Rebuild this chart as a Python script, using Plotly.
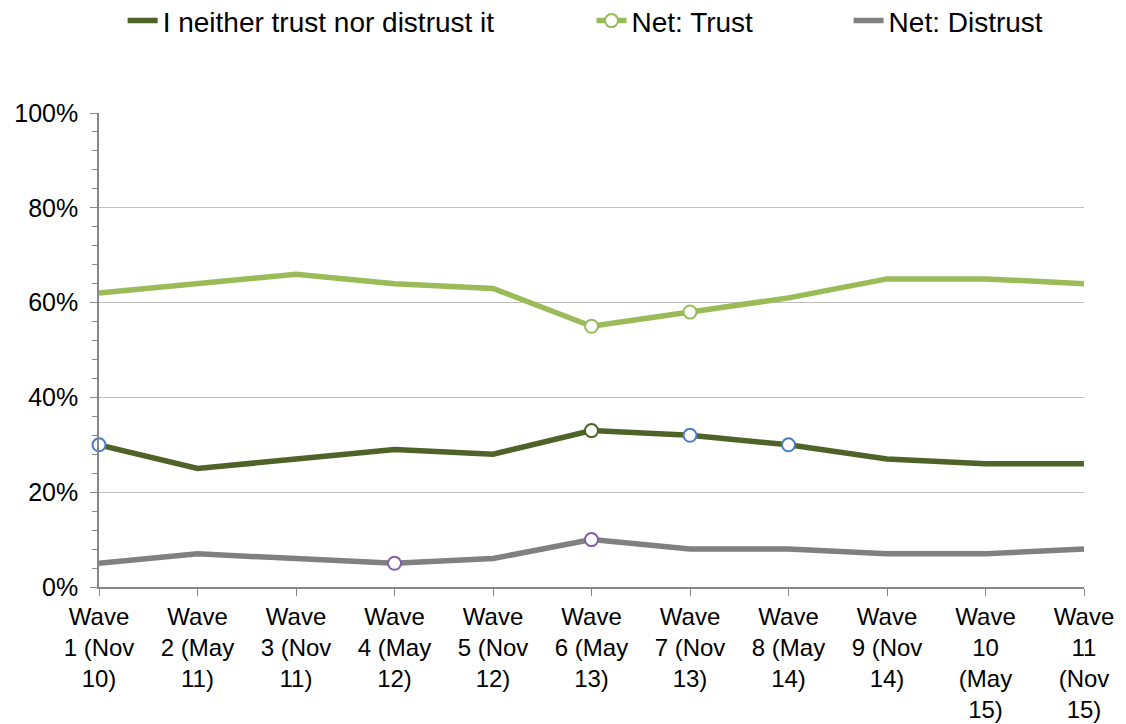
import plotly.graph_objects as go

categories = ["Wave<br>1 (Nov<br>10)", "Wave<br>2 (May<br>11)", "Wave<br>3 (Nov<br>11)",
              "Wave<br>4 (May<br>12)", "Wave<br>5 (Nov<br>12)", "Wave<br>6 (May<br>13)",
              "Wave<br>7 (Nov<br>13)", "Wave<br>8 (May<br>14)", "Wave<br>9 (Nov<br>14)",
              "Wave<br>10<br>(May<br>15)", "Wave<br>11<br>(Nov<br>15)"]
neither = [30, 25, 27, 29, 28, 33, 32, 30, 27, 26, 26]
trust = [62, 64, 66, 64, 63, 55, 58, 61, 65, 65, 64]
distrust = [5, 7, 6, 5, 6, 10, 8, 8, 7, 7, 8]

# highlighted points (index -> outline colour)
neither_marks = {0: "#4A7EC0", 5: "#4F6228", 6: "#4A7EC0", 7: "#4A7EC0"}
trust_marks = {5: "#9BBB59", 6: "#9BBB59"}
distrust_marks = {3: "#7F60A8", 5: "#7F60A8"}

C_NEITHER = "#4F6228"
C_TRUST = "#9BBB59"
C_DISTRUST = "#808080"
LW = 5.5

fig = go.Figure()
fig.add_trace(go.Scatter(x=categories, y=neither, mode="lines", name="I neither trust nor distrust it",
                         line=dict(color=C_NEITHER, width=LW), legend="legend"))
fig.add_trace(go.Scatter(x=[None], y=[None], mode="lines+markers", name="Net: Trust",
                         line=dict(color=C_TRUST, width=LW), legend="legend2",
                         marker=dict(size=13, color="white", line=dict(color=C_TRUST, width=2))))
fig.add_trace(go.Scatter(x=categories, y=distrust, mode="lines", name="Net: Distrust",
                         line=dict(color=C_DISTRUST, width=LW), legend="legend3"))
fig.add_trace(go.Scatter(x=categories, y=trust, mode="lines", name="Net: Trust",
                         line=dict(color=C_TRUST, width=LW), showlegend=False))

for vals, marks in [(neither, neither_marks), (trust, trust_marks), (distrust, distrust_marks)]:
    idx = sorted(marks)
    fig.add_trace(go.Scatter(
        x=[categories[i] for i in idx], y=[vals[i] for i in idx], mode="markers",
        showlegend=False, cliponaxis=False,
        marker=dict(size=13, color="white", line=dict(color=[marks[i] for i in idx], width=2))))

leg_common = dict(orientation="h", xanchor="left", yref="container", y=0.982, yanchor="middle",
                  font=dict(size=28), bgcolor="rgba(0,0,0,0)")
fig.update_layout(
    width=1118, height=716,
    paper_bgcolor="white", plot_bgcolor="white",
    margin=dict(l=91, r=42, t=105, b=137),
    font=dict(family="Liberation Sans, Arial", size=25, color="black"),
    showlegend=True,
    legend=dict(x=0.024, **leg_common),
    legend2=dict(x=0.500, **leg_common),
    legend3=dict(x=0.761, **leg_common),
)
fig.update_xaxes(type="category", range=[0, 10], showgrid=False, showline=True,
                 linecolor="#868686", linewidth=1.5, ticks="outside", ticklen=7,
                 tickcolor="#868686", automargin=False, tickangle=0,
                 tickfont=dict(size=24))
fig.update_yaxes(range=[0, 100], dtick=20, ticksuffix="%", showgrid=True, gridcolor="#BFBFBF",
                 gridwidth=1, showline=True, linecolor="#868686", linewidth=1.5,
                 ticks="outside", ticklen=7, tickcolor="#868686", zeroline=False,
                 automargin=False, ticklabelstandoff=7, tickfont=dict(size=25),
                 minor=dict(dtick=4, ticks="outside", ticklen=5, tickcolor="#868686", showgrid=False))

fig.write_html("out.html")
